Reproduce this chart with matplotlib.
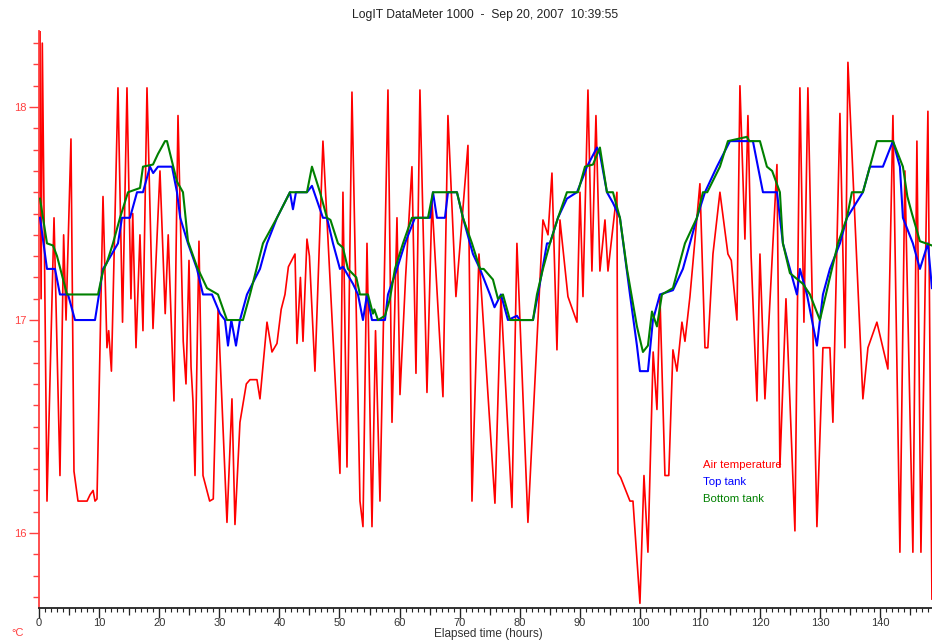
import matplotlib
matplotlib.use("Agg")
import matplotlib.pyplot as plt
from matplotlib.ticker import MultipleLocator

plt.rcParams['font.family'] = ['Liberation Sans', 'DejaVu Sans']

title = "LogIT DataMeter 1000  -  Sep 20, 2007  10:39:55"
series_names = ["Air temperature", "Top tank", "Bottom tank"]
series_colors = ["#ff0000", "#0000ff", "#008000"]

air_t = [0.0, 0.1, 0.35, 0.55, 1.33, 2.5, 3.49, 4.1, 4.5, 5.32, 5.82, 6.49, 8.0, 8.5, 9.0, 9.32, 9.65,
         10.65, 11.31, 11.6, 12.05, 13.14, 13.9, 14.64, 15.3, 15.6, 16.14, 16.8, 17.3, 17.97, 18.97,
         20.13, 21.0, 21.5, 22.46, 23.13, 24.0, 24.46, 24.96, 25.3, 25.62, 25.96, 26.62, 27.29, 28.4,
         29.0, 29.8, 31.28, 32.11, 32.61, 33.44, 34.5, 35.11, 36.27, 36.77, 37.94, 38.77, 39.6, 40.3,
         40.93, 41.5, 42.6, 42.93, 43.5, 43.93, 44.59, 45.0, 45.92, 47.25, 50.08, 50.58, 51.25, 52.08,
         53.41, 53.91, 54.58, 55.41, 56.0, 56.74, 58.07, 58.74, 59.57, 60.07, 61.0, 62.06, 62.73,
         63.39, 64.56, 65.39, 67.22, 68.05, 69.38, 71.38, 72.05, 73.21, 75.87, 76.87, 78.7, 79.53,
         81.36, 83.86, 84.7, 85.36, 86.19, 86.69, 88.02, 89.52, 90.02, 90.52, 91.35, 92.01, 92.68,
         93.34, 94.18, 94.68, 96.17, 96.34, 96.8, 98.34, 98.84, 100.0, 100.67, 101.33, 102.2, 102.83,
         103.33, 104.16, 104.8, 105.49, 106.16, 106.99, 107.49, 108.32, 109.98, 110.82, 111.3, 112.15,
         113.31, 114.0, 114.64, 115.2, 116.14, 116.64, 117.47, 117.97, 118.5, 119.47, 119.97, 120.8,
         122.8, 123.29, 124.3, 125.79, 126.62, 127.29, 127.95, 129.45, 130.45, 131.61, 132.11, 133.28,
         134.11, 134.61, 137.1, 137.94, 139.43, 140.43, 141.26, 142.1, 143.26, 144.09, 145.42, 146.09,
         146.76, 147.92, 148.59]
air_v = [17.6, 18.36, 17.1, 18.3, 16.15, 17.48, 16.27, 17.4, 17.0, 17.85, 16.29, 16.15, 16.15, 16.18, 16.2, 16.15, 16.16,
         17.58, 16.87, 16.95, 16.76, 18.09, 16.99, 18.09, 17.1, 17.5, 16.87, 17.4, 16.95, 18.09, 16.96,
         17.7, 17.03, 17.4, 16.62, 17.96, 16.9, 16.7, 17.28, 16.78, 16.62, 16.27, 17.37, 16.27, 16.15,
         16.16, 17.05, 16.05, 16.63, 16.04, 16.52, 16.7, 16.72, 16.72, 16.63, 16.99, 16.85, 16.89, 17.05,
         17.12, 17.25, 17.31, 16.89, 17.2, 16.9, 17.38, 17.3, 16.76, 17.84, 16.28, 17.6, 16.31, 18.07,
         16.15, 16.03, 17.36, 16.03, 16.95, 16.15, 18.08, 16.52, 17.48, 16.65, 17.2, 17.72, 16.75,
         18.08, 16.66, 17.56, 16.64, 17.96, 17.11, 17.82, 16.15, 17.31, 16.14, 17.11, 16.12, 17.36,
         16.05, 17.47, 17.4, 17.69, 16.86, 17.47, 17.11, 16.99, 17.6, 17.11, 18.08, 17.23, 17.96,
         17.23, 17.47, 17.23, 17.6, 16.28, 16.26, 16.15, 16.15, 15.67, 16.27, 15.91, 16.85, 16.58,
         17.11, 16.27, 16.27, 16.86, 16.76, 16.99, 16.9, 17.11, 17.64, 16.87, 16.87, 17.31,
         17.6, 17.45, 17.31, 17.28, 17.0, 18.1, 17.38, 17.96, 17.3, 16.62, 17.31, 16.63,
         17.73, 16.31, 17.1, 16.01, 18.09, 16.99, 18.09, 16.03, 16.87, 16.87, 16.52, 17.97,
         16.87, 18.21, 16.63, 16.87, 16.99, 16.87, 16.77, 17.96, 15.91, 17.7, 15.91, 17.84,
         15.91, 17.98, 15.69]

top_t = [0.17, 1.33, 2.66, 3.49, 4.83, 5.99, 9.32, 10.65, 11.3, 13.14, 13.81, 15.14, 16.31, 17.3, 18.47,
         19.0, 19.8, 22.13, 22.96, 23.5, 24.79, 26.29, 27.29, 28.79, 30.12, 30.95, 31.45, 32.0, 32.78,
         33.44, 34.61, 36.77, 37.94, 39.6, 41.76, 42.26, 42.76, 44.59, 45.42, 46.76, 47.25, 47.92,
         48.92, 50.08, 50.58, 51.41, 52.25, 53.08, 53.91, 54.58, 55.41, 57.57, 58.07, 59.57, 60.9,
         62.56, 65.06, 65.56, 66.22, 67.55, 68.05, 69.55, 70.55, 72.21, 73.38, 75.04, 75.8, 76.87,
         78.04, 79.53, 80.0, 82.2, 83.03, 84.53, 85.02, 86.36, 87.85, 89.52, 90.52, 91.18, 92.85,
         93.34, 94.51, 95.51, 96.67, 98.34, 99.5, 100.0, 101.33, 102.16, 103.33, 105.49, 107.15,
         108.32, 109.48, 110.82, 112.81, 114.98, 118.8, 119.63, 120.47, 122.8, 123.79, 124.96,
         126.12, 126.62, 127.79, 129.45, 130.45, 131.61, 133.28, 134.44, 137.1, 138.27, 140.43,
         142.1, 143.26, 143.76, 145.42, 146.59, 147.92, 148.59]
top_v = [17.48, 17.24, 17.24, 17.12, 17.12, 17.0, 17.0, 17.24, 17.27, 17.36, 17.48, 17.48, 17.6, 17.6, 17.72,
         17.69, 17.72, 17.72, 17.6, 17.48, 17.36, 17.24, 17.12, 17.12, 17.03, 17.0, 16.88, 17.0, 16.88,
         17.0, 17.12, 17.24, 17.36, 17.48, 17.6, 17.52, 17.6, 17.6, 17.63, 17.52, 17.48, 17.48,
         17.36, 17.24, 17.25, 17.21, 17.17, 17.12, 17.0, 17.12, 17.0, 17.0, 17.12, 17.24, 17.36,
         17.48, 17.48, 17.6, 17.48, 17.48, 17.6, 17.6, 17.48, 17.31, 17.24, 17.12, 17.06, 17.12,
         17.0, 17.02, 17.0, 17.0, 17.12, 17.36, 17.36, 17.48, 17.57, 17.6, 17.67, 17.72, 17.81,
         17.78, 17.6, 17.55, 17.48, 17.12, 16.88, 16.76, 16.76, 17.0, 17.12, 17.14, 17.24,
         17.36, 17.48, 17.6, 17.72, 17.84, 17.84, 17.72, 17.6, 17.6, 17.36, 17.24,
         17.12, 17.24, 17.12, 16.88, 17.12, 17.24, 17.36, 17.48, 17.6, 17.72, 17.72,
         17.84, 17.72, 17.48, 17.36, 17.24, 17.36, 17.15]

bottom_t = [0.17, 1.33, 2.33, 3.0, 4.66, 9.82, 10.65, 11.3, 12.31, 13.48, 14.81, 16.81, 17.3, 18.97, 19.8,
            20.97, 21.3, 22.96, 23.96, 24.79, 26.29, 27.95, 29.78, 31.28, 33.94, 35.11, 37.27, 39.6,
            41.76, 44.59, 45.42, 46.76, 47.92, 48.5, 49.75, 50.58, 51.41, 52.8, 53.41, 54.74, 55.57,
            55.8, 56.41, 57.57, 58.4, 59.23, 60.57, 62.06, 64.73, 65.56, 69.55, 70.55, 72.05, 73.38,
            74.0, 75.54, 76.37, 77.2, 78.37, 82.2, 82.86, 83.86, 85.02, 86.36, 87.85, 89.68, 90.85,
            92.18, 93.34, 94.51, 95.51, 96.67, 97.84, 99.5, 100.5, 101.33, 102.0, 102.83, 103.66,
            105.49, 107.49, 109.48, 110.48, 111.2, 113.31, 114.64, 117.8, 118.2, 119.97, 121.13, 122.0,
            123.29, 123.79, 124.96, 127.12, 128.29, 129.95, 131.61, 132.95, 134.44, 135.27, 137.1,
            139.43, 142.1, 143.76, 144.5, 145.26, 146.59, 148.59]
bottom_v = [17.57, 17.36, 17.35, 17.3, 17.12, 17.12, 17.23, 17.27, 17.36, 17.48, 17.6, 17.62, 17.72, 17.73, 17.78,
            17.84, 17.84, 17.65, 17.6, 17.37, 17.25, 17.15, 17.12, 17.0, 17.0, 17.12, 17.36, 17.48,
            17.6, 17.6, 17.72, 17.6, 17.48, 17.47, 17.36, 17.34, 17.24, 17.2, 17.12, 17.12, 17.03,
            17.05, 17.0, 17.02, 17.1, 17.24, 17.36, 17.48, 17.48, 17.6, 17.6, 17.48, 17.36, 17.24,
            17.24, 17.19, 17.1, 17.12, 17.0, 17.0, 17.12, 17.24, 17.36, 17.48, 17.6, 17.6, 17.72,
            17.73, 17.81, 17.6, 17.6, 17.48, 17.24, 16.97, 16.85, 16.88, 17.04, 16.97, 17.12,
            17.15, 17.36, 17.48, 17.6, 17.6, 17.72, 17.84, 17.86, 17.84, 17.84, 17.72, 17.7,
            17.6, 17.36, 17.22, 17.17, 17.12, 17.0, 17.2, 17.36, 17.48, 17.6, 17.6,
            17.84, 17.84, 17.72, 17.58, 17.5, 17.37, 17.35]

x_ticks = list(range(0, 150, 10))
x_mid_ticks = list(range(5, 150, 10))
y_ticks = [16, 17, 18]

fig = plt.figure(figsize=(9.32, 6.42), dpi=100)
ax = fig.add_axes([39/932, 1-608/642, 1-39/932, (608-31)/642])

ax.plot(air_t, air_v, color=series_colors[0], lw=1.2, zorder=2)
ax.plot(top_t, top_v, color=series_colors[1], lw=1.5, zorder=3)
ax.plot(bottom_t, bottom_v, color=series_colors[2], lw=1.5, zorder=4)

ax.set_xlim(0, 148.6)
ax.set_ylim(15.648, 18.357)

for s in ['top', 'right']:
    ax.spines[s].set_visible(False)
ax.spines['left'].set_color('#ff4040')
ax.spines['left'].set_linewidth(1.3)
ax.spines['bottom'].set_color('#222222')
ax.spines['bottom'].set_linewidth(1.3)

ax.set_xticks(x_ticks)
ax.xaxis.set_minor_locator(MultipleLocator(1))
ax.set_yticks(y_ticks)
ax.yaxis.set_minor_locator(MultipleLocator(0.1))
ax.tick_params(axis='x', which='major', length=7, width=1, color='#222222', labelsize=8,
               labelcolor='#333333', pad=0.5)
ax.tick_params(axis='x', which='minor', length=3, width=0.8, color='#222222')
ax.tick_params(axis='y', which='major', length=7, width=1, color='#ff4040', labelsize=8,
               labelcolor='#ff4040', pad=2)
ax.tick_params(axis='y', which='minor', length=4, width=1, color='#ff4040')

sec = ax.secondary_xaxis('bottom')
sec.set_xticks(x_mid_ticks)
sec.tick_params(axis='x', length=5, width=0.9, color='#222222', labelbottom=False)
sec.spines['bottom'].set_visible(False)

fig.text(485.5/932, 1-15/642, title, ha='center', va='center', fontsize=8.7, color='#222222')
fig.text(488/932, 1-634.5/642, "Elapsed time (hours)", ha='center', va='center', fontsize=8.5, color='#333333')
fig.text(18/932, 1-633/642, "°C", ha='center', va='center', fontsize=8, color='#ff4040')

for i, (name, col) in enumerate(zip(series_names, series_colors)):
    fig.text(703/932, 1-(465+17*i)/642, name, ha='left', va='center', fontsize=8.2, color=col)

fig.savefig("out.png", dpi=100, facecolor='white')
